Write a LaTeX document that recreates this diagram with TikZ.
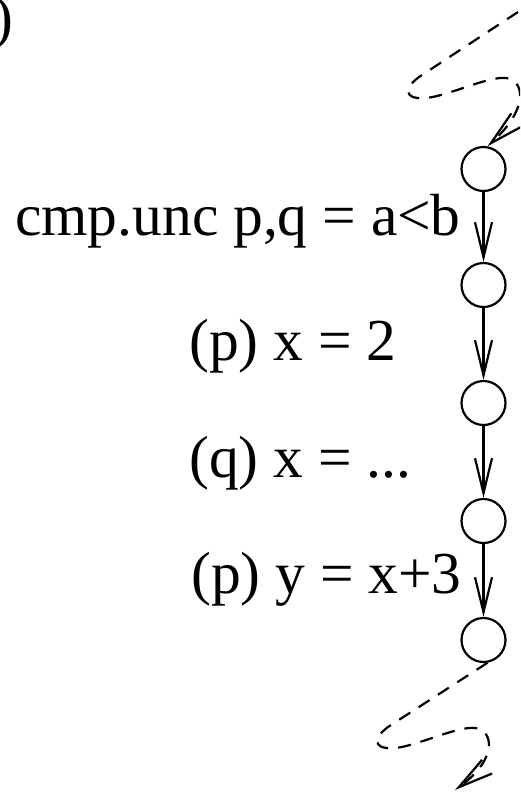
\documentclass[tikz,border=0pt]{standalone}
\usepackage{fontspec}
\setmainfont{Liberation Serif}
\usetikzlibrary{arrows.meta}
\begin{document}
\begin{tikzpicture}[x=1pt,y=-1pt,
  state/.style={circle, draw, line width=2.2pt, minimum size=44pt, inner sep=0pt},
  lbl/.style={anchor=base west, inner sep=0pt, font=\fontsize{59.5}{70}\selectfont},
  flow/.style={line width=2.2pt, -{Straight Barb[length=35pt,width=17pt]}},
  jump/.style={flow, dash pattern=on 13pt off 10pt}]
\useasboundingbox (0,0) rectangle (520,793);
\clip (0,0) rectangle (520,793);
\node[lbl] (paren) at (-7,37) {)};
\node[state] (c1) at (483.5,169) {};
\node[state] (c2) at (483.5,285) {};
\node[state] (c3) at (483.5,403) {};
\node[state] (c4) at (483.5,521) {};
\node[state] (c5) at (483.5,640) {};
\node[lbl] (t1) at (15,235) {cmp.unc p,q = a<b};
\node[lbl] (t2) at (189,360) {(p) x = 2};
\node[lbl] (t3) at (189,477) {(q) x = ...};
\node[lbl] (t4) at (191,593) {(p) y = x+3};
\draw[flow] (c1) -- (c2);
\draw[flow] (c2) -- (c3);
\draw[flow] (c3) -- (c4);
\draw[flow] (c4) -- (c5);
\coordinate (topstart) at (518,12);
\coordinate (botend) at (455,790);
\draw[jump] (topstart) -- (422,75) .. controls (406,85) and (400,100) .. (426,98)
  .. controls (448,96) and (488,76) .. (506,78)
  .. controls (524,80) and (530,108) .. (c1.80);
\draw[jump] (c5.-80) -- (391,725) .. controls (375,735) and (369,750) .. (395,748)
  .. controls (417,746) and (457,726) .. (475,728)
  .. controls (493,730) and (499,758) .. (botend);
\end{tikzpicture}
\end{document}
